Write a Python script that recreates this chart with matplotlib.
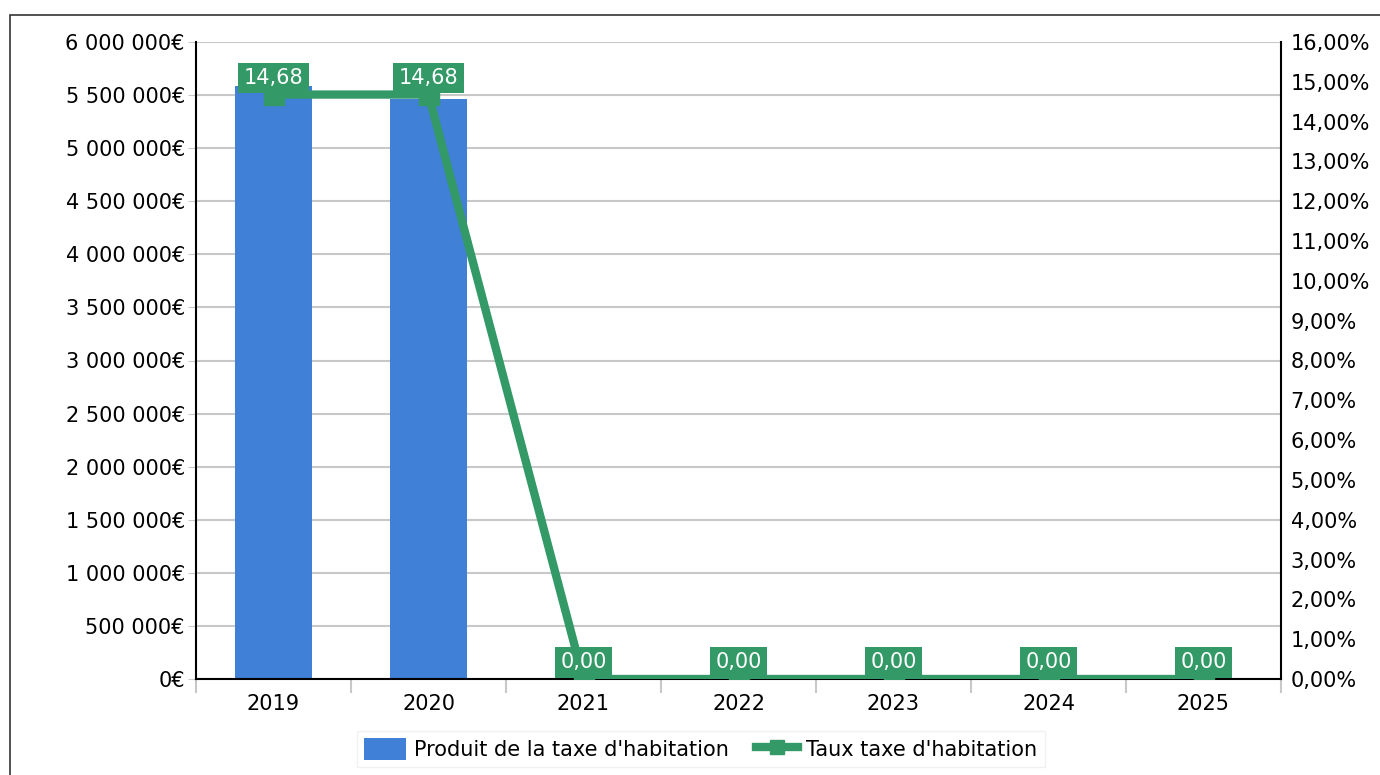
import numpy as np
import matplotlib.pyplot as plt
from matplotlib.patches import Rectangle
from matplotlib.ticker import FuncFormatter, MultipleLocator

annees = ["2019", "2020", "2021", "2022", "2023", "2024", "2025"]
produit = [5590000, 5460000, 0, 0, 0, 0, 0]
taux = [14.68, 14.68, 0.00, 0.00, 0.00, 0.00, 0.00]

bleu = "#4080d6"
vert = "#339966"

plt.rcParams["font.family"] = "DejaVu Sans"
plt.rcParams["font.size"] = 15

fig = plt.figure(figsize=(13.8, 7.75), dpi=100)
ax = fig.add_axes([196 / 1380, 1 - 679 / 775, (1281 - 196) / 1380, (679 - 42) / 775])
ax2 = ax.twinx()

x = np.arange(len(annees))
ax.bar(x, produit, width=0.5, color=bleu, zorder=2, label="Produit de la taxe d'habitation")

ax.set_xlim(-0.5, len(annees) - 0.5)
ax.set_ylim(0, 6000000)
ax.yaxis.set_major_locator(MultipleLocator(500000))
ax.yaxis.set_major_formatter(FuncFormatter(lambda v, p: f"{int(v):,}".replace(",", " ") + "€"))
ax.grid(axis="y", color="#c8c8c8", linewidth=1.5, zorder=0)
ax.set_axisbelow(True)
ax.tick_params(axis="y", length=6, color="#c8c8c8", pad=2)

# ticks de l'axe x entre les catégories, libellés au centre
ax.set_xticks(np.arange(-0.5, len(annees), 1))
ax.set_xticklabels([])
ax.set_xticks(x, minor=True)
ax.set_xticklabels(annees, minor=True)
ax.tick_params(axis="x", which="major", length=10, color="#c8c8c8", width=1.5)
ax.tick_params(axis="x", which="minor", length=0, pad=11)

for s in ["left", "bottom"]:
    ax.spines[s].set_linewidth(1.5)
ax.spines["top"].set_visible(False)
ax.spines["right"].set_visible(False)

ax2.plot(x, taux, color=vert, linewidth=6, marker="s", markersize=14,
         zorder=3, label="Taux taxe d'habitation")
ax2.set_ylim(0, 16)
ax2.yaxis.set_major_locator(MultipleLocator(1))
ax2.yaxis.set_major_formatter(FuncFormatter(lambda v, p: f"{v:.2f}%".replace(".", ",")))
ax2.tick_params(axis="y", length=0, pad=7)
ax2.spines["right"].set_linewidth(1.5)
for s in ["top", "left", "bottom"]:
    ax2.spines[s].set_visible(False)

for xi, t in zip(x, taux):
    ax2.annotate(f"{t:.2f}".replace(".", ","), (xi, t), xytext=(0, 12),
                 textcoords="offset points", ha="center", va="center",
                 color="white", fontsize=15, zorder=5,
                 bbox=dict(boxstyle="square,pad=0.25", facecolor=vert, edgecolor="none"))

h1, l1 = ax.get_legend_handles_labels()
h2, l2 = ax2.get_legend_handles_labels()
leg = fig.legend(h1 + h2, l1 + l2, loc="center", bbox_to_anchor=(701 / 1380, 1 - 749 / 775),
                 ncol=2, frameon=True, fancybox=False, edgecolor="#eeeeee",
                 handlelength=2.0, handleheight=1.2, columnspacing=1.3, handletextpad=0.4,
                 borderpad=0.35, borderaxespad=0.3, fontsize=15, markerscale=0.75)

# cadre autour du graphique
fig.add_artist(Rectangle((10 / 1380, -0.1), 1.2, 1 - 15 / 775 + 0.1,
                         transform=fig.transFigure, fill=False,
                         edgecolor="#333333", linewidth=1.2))

fig.savefig("out.png", dpi=100)
